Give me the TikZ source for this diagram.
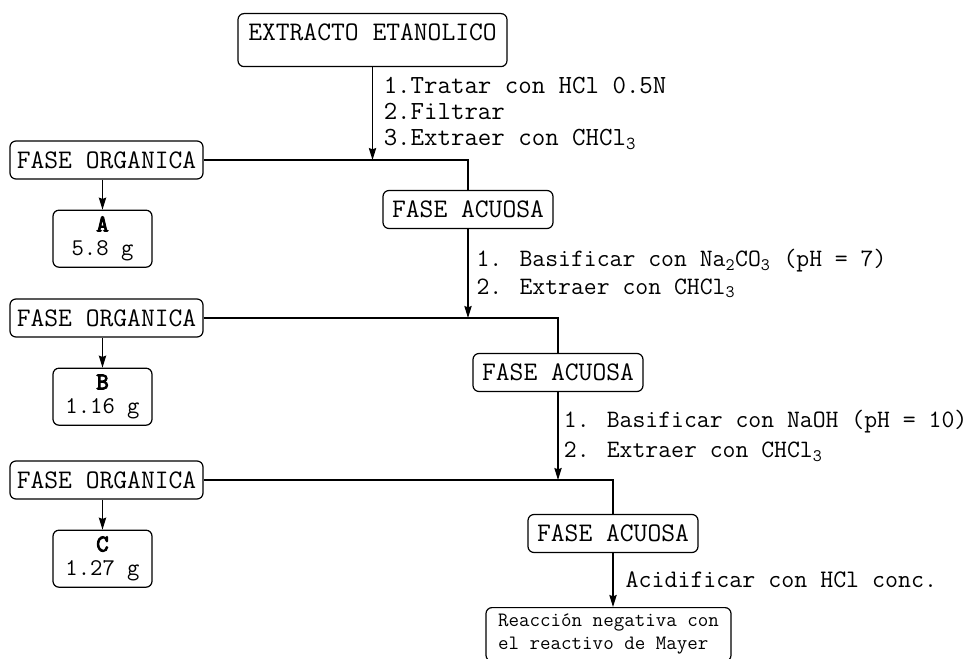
\documentclass[tikz,border=0pt]{standalone}
\usepackage{fontspec}
\newfontfamily\negrita{Latin Modern Mono}[FakeBold=4]
\usetikzlibrary{arrows.meta, positioning}

\begin{document}
\begin{tikzpicture}[
    x=0.75pt, y=-0.75pt,
    line width=0.9pt,
    >={Stealth[length=9pt, width=5.5pt, inset=1pt]},
    caja/.style={rectangle, draw, rounded corners=4.5pt, align=center, inner sep=2pt, font=\ttfamily\fontsize{20.1}{24}\selectfont},
    fase/.style={caja, minimum height=28.5pt},
    organica/.style={fase, minimum width=144.75pt},
    acuosa/.style={fase, minimum width=127.5pt},
    producto/.style={caja, minimum width=74.25pt, minimum height=42.75pt, font=\ttfamily\fontsize{18}{18}\selectfont},
    paso/.style={align=left, inner sep=0pt, font=\ttfamily\fontsize{18.75}{20.5}\selectfont}
]
    \useasboundingbox (0,0) rectangle (977,659);
    \clip (0,0) rectangle (977,659);

    % Starting extract
    \node [caja, anchor=north, minimum width=201.75pt, inner ysep=8pt, text height=12pt, text depth=11.75pt] (extracto) at (372.5,13) {EXTRACTO ETANOLICO};

    % First partition
    \node [organica] (org1) at (106.5,160) {FASE ORGANICA};
    \node [acuosa] (acu1) at (468,209.5) {FASE ACUOSA};
    \node [producto, below=22.5pt of org1, xshift=-3pt] (prodA) {{\negrita A}\\5.8 g};

    % Second partition
    \node [organica] (org2) at (106.5,318) {FASE ORGANICA};
    \node [acuosa] (acu2) at (558,372.5) {FASE ACUOSA};
    \node [producto, below=22.5pt of org2, xshift=-3pt] (prodB) {{\negrita B}\\1.16 g};

    % Third partition
    \node [organica] (org3) at (106.5,480) {FASE ORGANICA};
    \node [acuosa] (acu3) at (613,533.5) {FASE ACUOSA};
    \node [producto, below=22.5pt of org3, xshift=-3pt] (prodC) {{\negrita C}\\1.27 g};

    % Final test
    \node [caja, anchor=north, minimum width=183.75pt, align=left, inner ysep=5pt, font=\ttfamily\fontsize{15.3}{17.25}\selectfont] (reaccion) at (608.5,607) {Reacción negativa con\\el reactivo de Mayer};

    % Extract to first split
    \draw[->] (extracto.south) -- node[paso, right=8pt, font=\ttfamily\fontsize{19.6}{19.5}\selectfont] {1.Tratar con HCl 0.5N\\2.Filtrar\\3.Extraer con CHCl\textsubscript{3}} (extracto.south |- org1.east);
    \draw (org1.east) -| (acu1.north);
    \draw[->] (prodA.north |- org1.south) -- (prodA.north);

    % Aqueous phase 1 to second split
    \draw[->] (acu1.south) -- node[paso, right=6pt] {1. Basificar con Na\textsubscript{2}CO\textsubscript{3} (pH = 7)\\2. Extraer con CHCl\textsubscript{3}} (acu1.south |- org2.east);
    \draw (org2.east) -| (acu2.north);
    \draw[->] (prodB.north |- org2.south) -- (prodB.north);

    % Aqueous phase 2 to third split
    \draw[->] (acu2.south) -- node[paso, right=4pt, font=\ttfamily\fontsize{18.75}{22.5}\selectfont] {1. Basificar con NaOH (pH = 10)\\2. Extraer con CHCl\textsubscript{3}} (acu2.south |- org3.east);
    \draw (org3.east) -| (acu3.north);
    \draw[->] (prodC.north |- org3.south) -- (prodC.north);

    % Aqueous phase 3 to test
    \draw[->] (acu3.south) -- node[paso, right=9pt, font=\ttfamily\fontsize{18.9}{20}\selectfont] {Acidificar con HCl conc.} (acu3.south |- reaccion.north);
\end{tikzpicture}
\end{document}
